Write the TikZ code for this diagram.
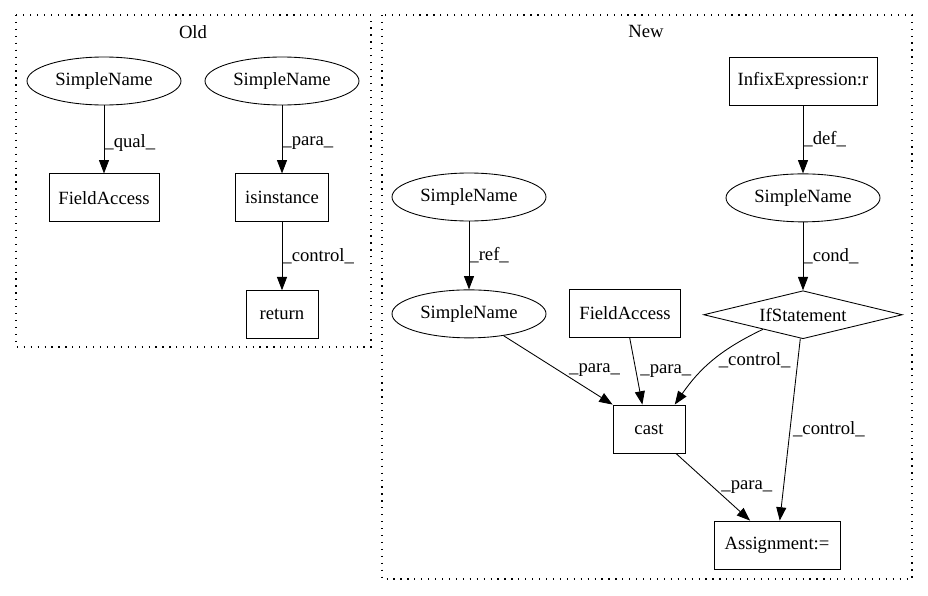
\documentclass[tikz,border=0pt]{standalone}
\usepackage{fontspec}
\setmainfont{Liberation Serif}
\usetikzlibrary{positioning,arrows.meta,shapes.geometric}
\tikzset{name node/.style={ellipse,draw,minimum width=115.5pt,minimum height=36pt,inner sep=0pt},
	stmt node/.style={rectangle,draw,minimum height=36pt,inner sep=2pt},
	cond node/.style={diamond,draw,aspect=4.1,minimum width=149pt,minimum height=36pt,inner sep=0pt},
	lbl/.style={anchor=west,inner sep=0pt},
	cluster/.style={draw,line width=0.8pt,dash pattern=on 0.9pt off 4.3pt},
}

\begin{document}
\begin{tikzpicture}[x=0.75pt,y=-0.75pt,node distance = 51pt,line width=0.65pt,
	font=\fontsize{14pt}{16pt}\selectfont,>={Triangle[length=10pt,width=7.5pt]}]
	\useasboundingbox (0,0) rectangle (928,596);
	% clusters
	\draw[cluster] (16,15) rectangle (371,347);
	\node (old) at (193,32) {Old};
	\draw[cluster] (382,15) rectangle (912,579);
	\node (new) at (646,31) {New};
	
	% old
	\node[name node] (oldsn1) at (104,81) {SimpleName};
	\node[name node] (oldsn2) at (282,81) {SimpleName};
	\node[stmt node,minimum width=82.5pt] (oldfa)[below = of oldsn1]{FieldAccess};
	\node[stmt node,minimum width=70pt] (isinst)[below = of oldsn2]{isinstance};
	\node[stmt node,minimum width=54pt] (ret)[below = of isinst]{return};
	
	% new
	\node[stmt node,minimum width=111pt] (infix) at (803,81) {InfixExpression:r};
	\node[name node] (condsn)[below = of infix]{SimpleName};
	\node[cond node] (ifs)[below = of condsn]{IfStatement};
	\node[name node] (refsn) at (469,197) {SimpleName};
	\node[name node] (parasn)[below = of refsn]{SimpleName};
	\node[stmt node,minimum width=83pt] (newfa) at (625,313) {FieldAccess};
	\node[stmt node,minimum width=54pt] (cast) at (649,429) {cast};
	\node[stmt node,minimum width=94.5pt] (assign) at (777,545) {Assignment:=};
	
	\path[draw,->]
	(oldsn1) edge node[lbl,pos=0.55] {\_qual\_} (oldfa)
	(oldsn2) edge node[lbl,pos=0.55] {\_para\_} (isinst)
	(isinst) edge node[lbl] {\_control\_} (ret)
	(infix) edge node[lbl] {\_def\_} (condsn)
	(condsn) edge node[lbl] {\_cond\_} (ifs)
	(refsn) edge node[lbl] {\_ref\_} (parasn)
	(parasn) edge node[lbl,xshift=8pt] {\_para\_} (cast.north west)
	(newfa) edge node[lbl,xshift=3pt] {\_para\_} ([xshift=-5pt]cast.north)
	(ifs) edge[bend right=15] node[lbl,xshift=4pt] {\_control\_} ([xshift=-8pt]cast.north east)
	(ifs) edge node[lbl,xshift=2pt] {\_control\_} (assign)
	(cast) edge node[lbl,xshift=6pt] {\_para\_} (assign);
\end{tikzpicture}
\end{document}
